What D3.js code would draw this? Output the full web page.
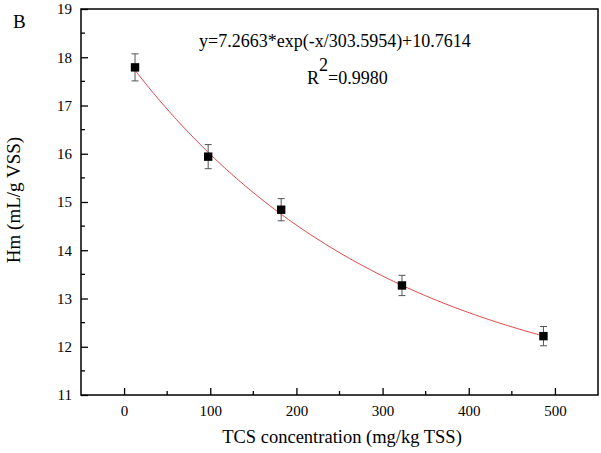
<!DOCTYPE html>
<html><head><meta charset="utf-8">
<script src="https://cdn.jsdelivr.net/npm/d3@7"></script>
<style>body{margin:0;background:#fff}svg{display:block}text{font-family:"Liberation Serif","Times New Roman",serif;fill:#000}</style>
</head><body><svg id="c" width="601" height="453"></svg>
<script>
const xVals = [12.7, 97.6, 182.3, 322.5, 486.7];
const yVals = [17.79, 15.94, 14.84, 13.27, 12.22];
const yErr = [0.28, 0.25, 0.23, 0.21, 0.20];
const xTicks = [0, 100, 200, 300, 400, 500];
const yTicks = [11, 12, 13, 14, 15, 16, 17, 18, 19];
const fitA = 7.2663, fitT = 303.5954, fitC = 10.7614;

const svg = d3.select("#c");
const L = 81, R = 598, T = 9, B = 395;
const x = d3.scaleLinear().domain([-50, 550]).range([L, R]);
const y = d3.scaleLinear().domain([11, 19]).range([B, T]);

// frame
svg.append("rect").attr("x", L).attr("y", T).attr("width", R - L).attr("height", B - T)
  .attr("fill", "none").attr("stroke", "#000").attr("stroke-width", 1.5);

// minor ticks
const xMinor = d3.range(-50, 551, 50).filter(v => v % 100 !== 0 && v > -50 && v < 550);
const yMinor = d3.range(11.5, 19, 1);
svg.append("g").selectAll("line").data(xMinor).join("line")
  .attr("x1", d => x(d)).attr("x2", d => x(d)).attr("y1", B).attr("y2", B - 4)
  .attr("stroke", "#000").attr("stroke-width", 1.3);
svg.append("g").selectAll("line").data(yMinor).join("line")
  .attr("y1", d => y(d)).attr("y2", d => y(d)).attr("x1", L).attr("x2", L + 4)
  .attr("stroke", "#000").attr("stroke-width", 1.3);

const xAxis = svg.append("g").attr("transform", `translate(0,${B})`)
  .call(d3.axisBottom(x).tickValues(xTicks).tickSize(-7).tickPadding(10).tickFormat(d3.format("d")));
const yAxis = svg.append("g").attr("transform", `translate(${L},0)`)
  .call(d3.axisLeft(y).tickValues(yTicks).tickSize(-7).tickPadding(9).tickFormat(d3.format("d")));
[xAxis, yAxis].forEach(g => {
  g.select(".domain").remove();
  g.selectAll(".tick line").attr("stroke", "#000").attr("stroke-width", 1.3);
  g.selectAll(".tick text").attr("font-size", 15).attr("font-family", "Liberation Serif");
});

// fit curve
const xs = d3.range(xVals[0], xVals[xVals.length - 1] + 0.01, 2);
const line = d3.line().x(d => x(d)).y(d => y(fitA * Math.exp(-d / fitT) + fitC));
svg.append("path").datum(xs).attr("d", line).attr("fill", "none")
  .attr("stroke", "#e04040").attr("stroke-width", 1);

// error bars
const pts = xVals.map((v, i) => ({x: v, y: yVals[i], e: yErr[i]}));
const eg = svg.append("g").attr("stroke", "#555").attr("stroke-width", 1);
eg.selectAll(".v").data(pts).join("line")
  .attr("x1", d => x(d.x)).attr("x2", d => x(d.x)).attr("y1", d => y(d.y + d.e)).attr("y2", d => y(d.y - d.e));
eg.selectAll(".t").data(pts).join("line")
  .attr("x1", d => x(d.x) - 3.5).attr("x2", d => x(d.x) + 3.5).attr("y1", d => y(d.y + d.e)).attr("y2", d => y(d.y + d.e));
eg.selectAll(".b").data(pts).join("line")
  .attr("x1", d => x(d.x) - 3.5).attr("x2", d => x(d.x) + 3.5).attr("y1", d => y(d.y - d.e)).attr("y2", d => y(d.y - d.e));

// markers
svg.append("g").selectAll("rect").data(pts).join("rect")
  .attr("x", d => x(d.x) - 4.2).attr("y", d => y(d.y) - 4.2).attr("width", 8.4).attr("height", 8.4)
  .attr("fill", "#000");

// labels
svg.append("text").attr("x", 13).attr("y", 28).attr("font-size", 19).text("B");
svg.append("text").attr("x", 342).attr("y", 443).attr("text-anchor", "middle").attr("font-size", 18.5)
  .text("TCS concentration (mg/kg TSS)");
svg.append("text").attr("transform", "translate(20,200) rotate(-90)").attr("text-anchor", "middle")
  .attr("font-size", 19).text("Hm (mL/g VSS)");

svg.append("text").attr("x", 199).attr("y", 47).attr("font-size", 18)
  .text("y=7.2663*exp(-x/303.5954)+10.7614");
const r2 = svg.append("text").attr("x", 307).attr("y", 84).attr("font-size", 18);
r2.append("tspan").text("R");
r2.append("tspan").attr("dy", -13).text("2");
r2.append("tspan").attr("dy", 13).text("=0.9980");
</script></body></html>
